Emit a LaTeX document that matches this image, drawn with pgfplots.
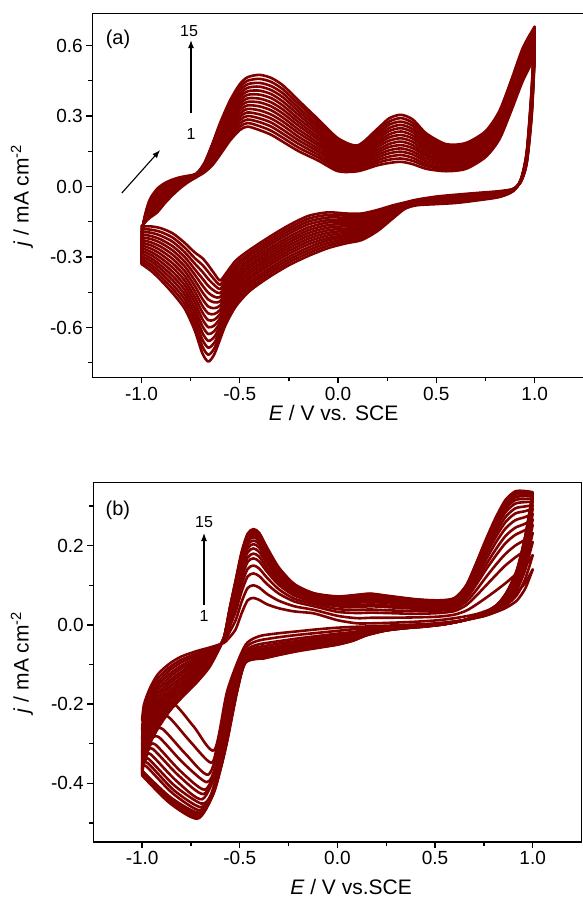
\documentclass[border=0pt]{standalone}
\usepackage{fontspec}
\setmainfont{Liberation Sans}
\usepackage{pgfplots}
\usepackage{pgfplotstable}
\pgfplotsset{compat=1.18}
\usetikzlibrary{arrows.meta}
\definecolor{cvred}{RGB}{128,0,0}

% ---------- (a) anodic sweeps, cycles 1..15 ----------
\pgfplotstableread{
E j1 j2 j3 j4 j5 j6 j7 j8 j9 j10 j11 j12 j13 j14 j15
-1.00 -0.170 -0.181 -0.193 -0.204 -0.216 -0.227 -0.239 -0.250 -0.261 -0.273 -0.284 -0.296 -0.307 -0.319 -0.330
-0.99 -0.160 -0.160 -0.160 -0.160 -0.160 -0.160 -0.160 -0.160 -0.160 -0.160 -0.160 -0.160 -0.160 -0.160 -0.160
-0.96 -0.135 -0.130 -0.124 -0.119 -0.114 -0.108 -0.103 -0.098 -0.092 -0.087 -0.081 -0.076 -0.071 -0.065 -0.060
-0.92 -0.110 -0.103 -0.096 -0.089 -0.081 -0.074 -0.067 -0.060 -0.053 -0.046 -0.039 -0.031 -0.024 -0.017 -0.010
-0.88 -0.070 -0.064 -0.058 -0.052 -0.046 -0.040 -0.034 -0.028 -0.021 -0.015 -0.009 -0.003 0.003 0.009 0.015
-0.84 -0.035 -0.030 -0.026 -0.021 -0.016 -0.012 -0.007 -0.003 0.002 0.007 0.011 0.016 0.021 0.025 0.030
-0.80 -0.005 -0.002 0.001 0.005 0.008 0.011 0.014 0.018 0.021 0.024 0.027 0.030 0.034 0.037 0.040
-0.76 0.020 0.022 0.024 0.026 0.027 0.029 0.031 0.033 0.035 0.037 0.039 0.040 0.042 0.044 0.046
-0.72 0.040 0.041 0.042 0.043 0.044 0.045 0.046 0.048 0.049 0.050 0.051 0.052 0.053 0.054 0.055
-0.68 0.060 0.063 0.066 0.069 0.071 0.074 0.077 0.080 0.083 0.086 0.089 0.091 0.094 0.097 0.100
-0.64 0.090 0.096 0.103 0.109 0.116 0.122 0.129 0.135 0.141 0.148 0.154 0.161 0.167 0.174 0.180
-0.60 0.135 0.145 0.154 0.164 0.174 0.183 0.193 0.203 0.212 0.222 0.231 0.241 0.251 0.260 0.270
-0.55 0.195 0.207 0.219 0.231 0.244 0.256 0.268 0.280 0.292 0.304 0.316 0.329 0.341 0.353 0.365
-0.50 0.240 0.254 0.268 0.282 0.296 0.310 0.324 0.338 0.351 0.365 0.379 0.393 0.407 0.421 0.435
-0.46 0.255 0.270 0.285 0.300 0.315 0.330 0.345 0.360 0.375 0.390 0.405 0.420 0.435 0.450 0.465
-0.40 0.240 0.257 0.274 0.290 0.307 0.324 0.341 0.358 0.374 0.391 0.408 0.425 0.441 0.458 0.475
-0.34 0.220 0.237 0.255 0.272 0.289 0.306 0.324 0.341 0.358 0.376 0.393 0.410 0.427 0.445 0.462
-0.28 0.190 0.207 0.224 0.241 0.259 0.276 0.293 0.310 0.327 0.344 0.361 0.379 0.396 0.413 0.430
-0.20 0.150 0.165 0.181 0.196 0.211 0.227 0.242 0.258 0.273 0.288 0.304 0.319 0.334 0.350 0.365
-0.10 0.110 0.123 0.135 0.148 0.160 0.173 0.185 0.198 0.210 0.223 0.235 0.248 0.260 0.273 0.285
0.00 0.065 0.075 0.085 0.095 0.105 0.115 0.125 0.135 0.145 0.155 0.165 0.175 0.185 0.195 0.205
0.10 0.065 0.073 0.081 0.089 0.096 0.104 0.112 0.120 0.128 0.136 0.144 0.151 0.159 0.167 0.175
0.20 0.090 0.101 0.112 0.123 0.134 0.145 0.156 0.168 0.179 0.190 0.201 0.212 0.223 0.234 0.245
0.26 0.100 0.114 0.127 0.141 0.154 0.168 0.181 0.195 0.209 0.222 0.236 0.249 0.263 0.276 0.290
0.32 0.105 0.119 0.134 0.148 0.162 0.176 0.191 0.205 0.219 0.234 0.248 0.262 0.276 0.291 0.305
0.38 0.095 0.109 0.122 0.136 0.149 0.163 0.176 0.190 0.204 0.217 0.231 0.244 0.258 0.271 0.285
0.45 0.075 0.086 0.096 0.107 0.118 0.129 0.139 0.150 0.161 0.171 0.182 0.193 0.204 0.214 0.225
0.55 0.065 0.073 0.081 0.090 0.098 0.106 0.114 0.123 0.131 0.139 0.147 0.155 0.164 0.172 0.180
0.65 0.075 0.083 0.091 0.099 0.106 0.114 0.122 0.130 0.138 0.146 0.154 0.161 0.169 0.177 0.185
0.75 0.125 0.133 0.141 0.149 0.156 0.164 0.172 0.180 0.188 0.196 0.204 0.211 0.219 0.227 0.235
0.82 0.200 0.209 0.217 0.226 0.234 0.243 0.251 0.260 0.269 0.277 0.286 0.294 0.303 0.311 0.320
0.88 0.320 0.329 0.339 0.348 0.357 0.366 0.376 0.385 0.394 0.404 0.413 0.422 0.431 0.441 0.450
0.94 0.450 0.460 0.470 0.480 0.490 0.500 0.510 0.520 0.530 0.540 0.550 0.560 0.570 0.580 0.590
1.00 0.550 0.559 0.569 0.578 0.587 0.596 0.606 0.615 0.624 0.634 0.643 0.652 0.661 0.671 0.680
}\anodA

% ---------- (a) cathodic sweeps ----------
\pgfplotstableread{
E j1 j2 j3 j4 j5 j6 j7 j8 j9 j10 j11 j12 j13 j14 j15
1.00 0.550 0.559 0.569 0.578 0.587 0.596 0.606 0.615 0.624 0.634 0.643 0.652 0.661 0.671 0.680
0.985 0.300 0.309 0.317 0.326 0.334 0.343 0.351 0.360 0.369 0.377 0.386 0.394 0.403 0.411 0.420
0.96 0.100 0.104 0.107 0.111 0.114 0.118 0.121 0.125 0.129 0.132 0.136 0.139 0.143 0.146 0.150
0.93 0.020 0.021 0.021 0.022 0.023 0.024 0.024 0.025 0.026 0.026 0.027 0.028 0.029 0.029 0.030
0.89 -0.010 -0.011 -0.011 -0.012 -0.013 -0.014 -0.014 -0.015 -0.016 -0.016 -0.017 -0.018 -0.019 -0.019 -0.020
0.82 -0.020 -0.022 -0.024 -0.025 -0.027 -0.029 -0.031 -0.032 -0.034 -0.036 -0.038 -0.040 -0.041 -0.043 -0.045
0.70 -0.028 -0.030 -0.033 -0.035 -0.037 -0.039 -0.042 -0.044 -0.046 -0.049 -0.051 -0.053 -0.055 -0.058 -0.060
0.60 -0.035 -0.038 -0.040 -0.043 -0.045 -0.048 -0.050 -0.053 -0.055 -0.058 -0.060 -0.063 -0.065 -0.068 -0.070
0.50 -0.043 -0.045 -0.048 -0.050 -0.052 -0.054 -0.057 -0.059 -0.061 -0.064 -0.066 -0.068 -0.070 -0.073 -0.075
0.40 -0.056 -0.058 -0.059 -0.061 -0.063 -0.065 -0.066 -0.068 -0.070 -0.071 -0.073 -0.075 -0.077 -0.078 -0.080
0.34 -0.068 -0.070 -0.072 -0.074 -0.076 -0.078 -0.080 -0.082 -0.083 -0.085 -0.087 -0.089 -0.091 -0.093 -0.095
0.28 -0.080 -0.084 -0.088 -0.092 -0.096 -0.100 -0.104 -0.108 -0.111 -0.115 -0.119 -0.123 -0.127 -0.131 -0.135
0.20 -0.100 -0.106 -0.113 -0.119 -0.126 -0.132 -0.139 -0.145 -0.151 -0.158 -0.164 -0.171 -0.177 -0.184 -0.190
0.12 -0.115 -0.123 -0.131 -0.139 -0.147 -0.155 -0.163 -0.172 -0.180 -0.188 -0.196 -0.204 -0.212 -0.220 -0.228
0.04 -0.115 -0.124 -0.133 -0.142 -0.151 -0.160 -0.169 -0.179 -0.188 -0.197 -0.206 -0.215 -0.224 -0.233 -0.242
-0.05 -0.110 -0.121 -0.132 -0.143 -0.153 -0.164 -0.175 -0.186 -0.197 -0.208 -0.219 -0.229 -0.240 -0.251 -0.262
-0.15 -0.125 -0.137 -0.149 -0.161 -0.174 -0.186 -0.198 -0.210 -0.222 -0.234 -0.246 -0.259 -0.271 -0.283 -0.295
-0.25 -0.165 -0.177 -0.189 -0.201 -0.214 -0.226 -0.238 -0.250 -0.262 -0.274 -0.286 -0.299 -0.311 -0.323 -0.335
-0.35 -0.215 -0.227 -0.239 -0.251 -0.264 -0.276 -0.288 -0.300 -0.312 -0.324 -0.336 -0.349 -0.361 -0.373 -0.385
-0.45 -0.270 -0.283 -0.295 -0.308 -0.320 -0.333 -0.345 -0.358 -0.370 -0.383 -0.395 -0.408 -0.420 -0.433 -0.445
-0.52 -0.315 -0.329 -0.343 -0.357 -0.371 -0.385 -0.399 -0.413 -0.426 -0.440 -0.454 -0.468 -0.482 -0.496 -0.510
-0.57 -0.370 -0.385 -0.401 -0.416 -0.431 -0.447 -0.462 -0.478 -0.493 -0.508 -0.524 -0.539 -0.554 -0.570 -0.585
-0.60 -0.400 -0.418 -0.436 -0.454 -0.471 -0.489 -0.507 -0.525 -0.543 -0.561 -0.579 -0.596 -0.614 -0.632 -0.650
-0.63 -0.370 -0.395 -0.419 -0.444 -0.469 -0.493 -0.518 -0.543 -0.567 -0.592 -0.616 -0.641 -0.666 -0.690 -0.715
-0.66 -0.335 -0.364 -0.394 -0.423 -0.452 -0.481 -0.511 -0.540 -0.569 -0.599 -0.628 -0.657 -0.686 -0.716 -0.745
-0.69 -0.305 -0.334 -0.363 -0.392 -0.421 -0.450 -0.479 -0.508 -0.536 -0.565 -0.594 -0.623 -0.652 -0.681 -0.710
-0.73 -0.280 -0.304 -0.327 -0.351 -0.374 -0.398 -0.421 -0.445 -0.469 -0.492 -0.516 -0.539 -0.563 -0.586 -0.610
-0.78 -0.240 -0.260 -0.280 -0.300 -0.320 -0.340 -0.360 -0.380 -0.400 -0.420 -0.440 -0.460 -0.480 -0.500 -0.520
-0.84 -0.200 -0.218 -0.236 -0.255 -0.273 -0.291 -0.309 -0.328 -0.346 -0.364 -0.382 -0.400 -0.419 -0.437 -0.455
-0.90 -0.178 -0.194 -0.210 -0.226 -0.241 -0.257 -0.273 -0.289 -0.305 -0.321 -0.337 -0.352 -0.368 -0.384 -0.400
-0.95 -0.170 -0.184 -0.197 -0.211 -0.224 -0.238 -0.251 -0.265 -0.279 -0.292 -0.306 -0.319 -0.333 -0.346 -0.360
-1.00 -0.170 -0.181 -0.193 -0.204 -0.216 -0.227 -0.239 -0.250 -0.261 -0.273 -0.284 -0.296 -0.307 -0.319 -0.330
}\catA

% ---------- (b) anodic sweeps ----------
\pgfplotstableread{
E j1 j2 j3 j4 j5 j6 j7 j8 j9 j10 j11 j12 j13 j14 j15
-1.00 -0.240 -0.266 -0.290 -0.306 -0.321 -0.330 -0.341 -0.350 -0.357 -0.363 -0.368 -0.372 -0.375 -0.378 -0.380
-0.99 -0.200 -0.210 -0.221 -0.231 -0.241 -0.252 -0.262 -0.273 -0.283 -0.293 -0.304 -0.314 -0.324 -0.335 -0.345
-0.96 -0.160 -0.170 -0.180 -0.190 -0.200 -0.210 -0.220 -0.230 -0.240 -0.250 -0.260 -0.270 -0.280 -0.290 -0.300
-0.92 -0.125 -0.135 -0.145 -0.154 -0.164 -0.174 -0.184 -0.194 -0.203 -0.213 -0.223 -0.233 -0.242 -0.252 -0.262
-0.86 -0.098 -0.107 -0.115 -0.124 -0.132 -0.141 -0.149 -0.158 -0.167 -0.175 -0.184 -0.192 -0.201 -0.209 -0.218
-0.80 -0.080 -0.088 -0.095 -0.103 -0.110 -0.118 -0.125 -0.133 -0.140 -0.148 -0.155 -0.163 -0.170 -0.178 -0.185
-0.72 -0.066 -0.072 -0.077 -0.083 -0.089 -0.094 -0.100 -0.106 -0.111 -0.117 -0.122 -0.128 -0.134 -0.139 -0.145
-0.66 -0.058 -0.062 -0.065 -0.069 -0.073 -0.077 -0.080 -0.084 -0.088 -0.091 -0.095 -0.099 -0.103 -0.106 -0.110
-0.62 -0.052 -0.054 -0.055 -0.057 -0.059 -0.060 -0.062 -0.063 -0.065 -0.067 -0.068 -0.070 -0.072 -0.073 -0.075
-0.58 -0.045 -0.042 -0.040 -0.038 -0.036 -0.035 -0.034 -0.033 -0.033 -0.032 -0.031 -0.031 -0.031 -0.030 -0.030
-0.55 -0.030 -0.016 -0.003 0.005 0.013 0.018 0.024 0.029 0.033 0.036 0.039 0.041 0.043 0.044 0.045
-0.52 -0.010 0.013 0.035 0.049 0.062 0.071 0.080 0.088 0.094 0.100 0.104 0.108 0.111 0.113 0.115
-0.49 0.030 0.059 0.085 0.103 0.119 0.130 0.141 0.151 0.159 0.166 0.172 0.176 0.180 0.182 0.185
-0.46 0.062 0.093 0.122 0.141 0.159 0.170 0.183 0.193 0.202 0.210 0.216 0.220 0.224 0.227 0.230
-0.43 0.068 0.100 0.130 0.150 0.168 0.180 0.193 0.204 0.213 0.221 0.227 0.232 0.236 0.239 0.242
-0.40 0.063 0.094 0.123 0.142 0.160 0.172 0.184 0.195 0.204 0.212 0.218 0.222 0.226 0.229 0.232
-0.36 0.052 0.078 0.103 0.119 0.134 0.144 0.155 0.164 0.171 0.178 0.183 0.187 0.190 0.193 0.195
-0.30 0.042 0.061 0.079 0.090 0.101 0.108 0.116 0.123 0.128 0.133 0.136 0.139 0.142 0.143 0.145
-0.22 0.034 0.047 0.059 0.066 0.074 0.078 0.083 0.088 0.092 0.095 0.097 0.099 0.101 0.102 0.103
-0.12 0.029 0.038 0.047 0.053 0.058 0.062 0.066 0.069 0.072 0.074 0.076 0.077 0.078 0.079 0.080
0.00 0.012 0.023 0.033 0.040 0.047 0.051 0.055 0.059 0.062 0.065 0.067 0.069 0.070 0.071 0.072
0.10 0.004 0.017 0.030 0.038 0.045 0.050 0.056 0.060 0.064 0.067 0.070 0.072 0.074 0.075 0.076
0.17 0.004 0.018 0.031 0.039 0.047 0.052 0.058 0.063 0.067 0.070 0.073 0.075 0.077 0.078 0.079
0.25 0.005 0.018 0.030 0.037 0.045 0.049 0.055 0.059 0.063 0.066 0.068 0.070 0.072 0.073 0.074
0.40 0.008 0.019 0.028 0.035 0.041 0.045 0.049 0.053 0.056 0.058 0.060 0.062 0.063 0.064 0.065
0.52 0.012 0.021 0.030 0.036 0.041 0.044 0.048 0.051 0.054 0.056 0.058 0.059 0.060 0.061 0.062
0.60 0.017 0.026 0.035 0.041 0.046 0.050 0.054 0.057 0.060 0.062 0.064 0.065 0.066 0.067 0.068
0.66 0.022 0.036 0.050 0.059 0.067 0.072 0.078 0.083 0.087 0.091 0.093 0.096 0.097 0.099 0.100
0.71 0.027 0.051 0.073 0.087 0.101 0.109 0.119 0.127 0.134 0.140 0.144 0.148 0.151 0.153 0.155
0.76 0.035 0.068 0.099 0.120 0.139 0.151 0.164 0.176 0.185 0.193 0.200 0.205 0.209 0.212 0.215
0.81 0.045 0.086 0.125 0.151 0.174 0.190 0.207 0.221 0.232 0.243 0.251 0.257 0.262 0.266 0.270
0.86 0.058 0.105 0.150 0.179 0.206 0.224 0.243 0.259 0.272 0.284 0.293 0.300 0.306 0.311 0.315
0.91 0.078 0.126 0.170 0.200 0.227 0.245 0.264 0.281 0.294 0.306 0.315 0.322 0.328 0.333 0.337
0.96 0.105 0.148 0.188 0.215 0.239 0.255 0.272 0.287 0.299 0.310 0.318 0.325 0.330 0.334 0.338
1.00 0.140 0.176 0.209 0.232 0.252 0.266 0.280 0.293 0.302 0.311 0.318 0.324 0.328 0.332 0.335
}\anodB

% ---------- (b) cathodic sweeps, 1.0 V down to -0.38 V ----------
\pgfplotstableread{
E j1 j2 j3 j4 j5 j6 j7 j8 j9 j10 j11 j12 j13 j14 j15
1.00 0.140 0.176 0.209 0.232 0.252 0.266 0.280 0.293 0.302 0.311 0.318 0.324 0.328 0.332 0.335
0.985 0.120 0.151 0.181 0.200 0.218 0.230 0.242 0.253 0.262 0.269 0.275 0.280 0.284 0.287 0.290
0.96 0.090 0.114 0.136 0.151 0.165 0.174 0.183 0.192 0.198 0.204 0.209 0.213 0.216 0.218 0.220
0.92 0.062 0.076 0.090 0.099 0.107 0.112 0.118 0.123 0.127 0.131 0.133 0.136 0.137 0.139 0.140
0.87 0.045 0.052 0.059 0.064 0.068 0.071 0.074 0.076 0.078 0.080 0.082 0.083 0.084 0.084 0.085
0.82 0.034 0.037 0.040 0.042 0.044 0.046 0.047 0.048 0.049 0.050 0.050 0.051 0.051 0.052 0.052
0.75 0.022 0.023 0.025 0.026 0.027 0.027 0.028 0.028 0.029 0.029 0.029 0.030 0.030 0.030 0.030
0.65 0.012 0.012 0.012 0.012 0.012 0.012 0.012 0.012 0.012 0.012 0.012 0.012 0.012 0.012 0.012
0.55 0.006 0.005 0.005 0.004 0.004 0.003 0.003 0.003 0.003 0.002 0.002 0.002 0.002 0.002 0.002
0.45 0.002 0.001 0.000 -0.001 -0.001 -0.002 -0.002 -0.003 -0.003 -0.003 -0.003 -0.004 -0.004 -0.004 -0.004
0.35 0.000 -0.001 -0.003 -0.004 -0.005 -0.005 -0.006 -0.006 -0.007 -0.007 -0.007 -0.008 -0.008 -0.008 -0.008
0.25 -0.002 -0.004 -0.006 -0.008 -0.009 -0.010 -0.011 -0.011 -0.012 -0.013 -0.013 -0.013 -0.014 -0.014 -0.014
0.15 -0.004 -0.008 -0.012 -0.014 -0.017 -0.018 -0.020 -0.021 -0.022 -0.023 -0.024 -0.025 -0.025 -0.026 -0.026
0.08 -0.005 -0.011 -0.018 -0.022 -0.025 -0.028 -0.030 -0.032 -0.034 -0.036 -0.037 -0.038 -0.039 -0.039 -0.040
0.00 -0.007 -0.015 -0.022 -0.027 -0.032 -0.035 -0.038 -0.041 -0.043 -0.045 -0.046 -0.048 -0.049 -0.049 -0.050
-0.10 -0.011 -0.020 -0.028 -0.033 -0.038 -0.041 -0.045 -0.048 -0.050 -0.052 -0.054 -0.055 -0.056 -0.057 -0.058
-0.20 -0.016 -0.025 -0.034 -0.040 -0.045 -0.048 -0.052 -0.055 -0.058 -0.060 -0.062 -0.063 -0.064 -0.065 -0.066
-0.30 -0.021 -0.031 -0.041 -0.047 -0.053 -0.056 -0.061 -0.064 -0.067 -0.069 -0.071 -0.073 -0.074 -0.075 -0.076
-0.38 -0.026 -0.037 -0.047 -0.054 -0.060 -0.064 -0.068 -0.072 -0.075 -0.078 -0.080 -0.082 -0.083 -0.084 -0.085
}\catB

\pgfplotsset{
  cv/.style={cvred, line width=2.6pt, smooth, tension=0.45,
             line join=round, line cap=round},
  cvaxis/.style={
    scale only axis,
    xmin=-1.25, xmax=1.25,
    axis line style={line width=1.4pt},
    tick align=outside,
    xtick pos=left, ytick pos=left,
    major tick length=6pt, minor tick length=4pt,
    tick style={line width=1.3pt, black},
    minor tick style={line width=1.3pt, black},
    xtick={-1,-0.5,0,0.5,1},
    xticklabels={-1.0,-0.5,0.0,0.5,1.0},
    minor xtick={-0.75,-0.25,0.25,0.75},
    ticklabel style={font=\fontsize{19}{22}\selectfont},
    label style={font=\fontsize{21}{25}\selectfont},
    ylabel={\textit{j} / mA cm\textsuperscript{-2}},
  },
}

\begin{document}
\begin{tikzpicture}
\useasboundingbox (0pt,0pt) rectangle (582pt,904pt);

% ----- panel (a) -----
\begin{axis}[cvaxis,
  at={(92.3pt,526.7pt)}, anchor=south west,
  width=491.5pt, height=364pt,
  ymin=-0.812, ymax=0.737,
  ytick={-0.6,-0.3,0,0.3,0.6},
  yticklabels={-0.6,-0.3,0.0,0.3,0.6},
  minor ytick={-0.75,-0.45,-0.15,0.15,0.45},
  xlabel={\textit{E} / V vs. SCE},
  xlabel style={at={(axis description cs:0.491,-0.097)}, anchor=center},
  ylabel style={at={(axis description cs:-0.143,0.5)}, anchor=center},
]
\pgfplotsinvokeforeach{1,...,15}{
  \addplot[cv] table[x=E, y=j#1] {\anodA};
  \addplot[cv] table[x=E, y=j#1] {\catA};
}
\node[font=\fontsize{20}{24}\selectfont] at (axis cs:-1.119,0.628) {(a)};
\node[font=\fontsize{16}{19}\selectfont] at (axis cs:-0.758,0.662) {15};
\node[font=\fontsize{16}{19}\selectfont] at (axis cs:-0.748,0.223) {1};
\draw[-{Latex[length=8pt,width=6pt]}, line width=1.1pt]
  (axis cs:-0.748,0.313) -- (axis cs:-0.748,0.623);
\draw[-{Latex[length=8pt,width=6pt]}, line width=1.1pt]
  (axis cs:-1.100,-0.028) -- (axis cs:-0.905,0.155);
\end{axis}

% ----- panel (b) -----
\begin{axis}[cvaxis,
  at={(93.3pt,62pt)}, anchor=south west,
  width=488.2pt, height=359.3pt,
  ymin=-0.548, ymax=0.359,
  ytick={-0.4,-0.2,0,0.2},
  yticklabels={-0.4,-0.2,0.0,0.2},
  minor ytick={-0.5,-0.3,-0.1,0.1,0.3},
  xlabel={\textit{E} / V vs.SCE},
  xlabel style={at={(axis description cs:0.528,-0.125)}, anchor=center},
  ylabel style={at={(axis description cs:-0.146,0.5)}, anchor=center},
]
\pgfplotsinvokeforeach{1,...,15}{
  \addplot[cv] table[x=E, y=j#1] {\anodB};
  \addplot[cv] table[x=E, y=j#1] {\catB};
}
% cathodic sweeps below -0.38 V, each cycle with its own reduction peak
\addplot[cv] coordinates {(-0.38,-0.026) (-0.47,-0.050) (-0.563,-0.165) (-0.630,-0.316) (-0.735,-0.257) (-0.840,-0.198) (-0.930,-0.206) (-1.000,-0.240)};
\addplot[cv] coordinates {(-0.38,-0.037) (-0.47,-0.058) (-0.554,-0.165) (-0.610,-0.290) (-0.646,-0.348) (-0.758,-0.292) (-0.869,-0.231) (-0.935,-0.240) (-1.000,-0.266)};
\addplot[cv] coordinates {(-0.38,-0.047) (-0.47,-0.066) (-0.545,-0.165) (-0.600,-0.290) (-0.661,-0.378) (-0.779,-0.325) (-0.897,-0.262) (-0.948,-0.269) (-1.000,-0.290)};
\addplot[cv] coordinates {(-0.38,-0.054) (-0.47,-0.071) (-0.539,-0.165) (-0.593,-0.290) (-0.626,-0.360) (-0.670,-0.397) (-0.793,-0.347) (-0.915,-0.283) (-0.958,-0.289) (-1.000,-0.306)};
\addplot[cv] coordinates {(-0.38,-0.060) (-0.47,-0.076) (-0.534,-0.165) (-0.587,-0.290) (-0.620,-0.360) (-0.680,-0.416) (-0.806,-0.368) (-0.932,-0.302) (-0.966,-0.307) (-1.000,-0.321)};
\addplot[cv] coordinates {(-0.38,-0.064) (-0.47,-0.079) (-0.530,-0.165) (-0.583,-0.290) (-0.616,-0.360) (-0.685,-0.427) (-0.814,-0.380) (-0.943,-0.314) (-0.972,-0.318) (-1.000,-0.330)};
\addplot[cv] coordinates {(-0.38,-0.068) (-0.47,-0.082) (-0.526,-0.165) (-0.579,-0.290) (-0.612,-0.360) (-0.692,-0.440) (-0.824,-0.394) (-0.955,-0.327) (-0.978,-0.331) (-1.000,-0.341)};
\addplot[cv] coordinates {(-0.38,-0.072) (-0.47,-0.085) (-0.523,-0.165) (-0.575,-0.290) (-0.608,-0.360) (-0.649,-0.430) (-0.697,-0.451) (-0.831,-0.407) (-0.965,-0.339) (-0.983,-0.342) (-1.000,-0.350)};
\addplot[cv] coordinates {(-0.38,-0.075) (-0.47,-0.088) (-0.521,-0.165) (-0.573,-0.290) (-0.605,-0.360) (-0.646,-0.430) (-0.702,-0.460) (-0.838,-0.417) (-0.973,-0.348) (-1.000,-0.357)};
\addplot[cv] coordinates {(-0.38,-0.078) (-0.47,-0.090) (-0.518,-0.165) (-0.570,-0.290) (-0.603,-0.360) (-0.644,-0.430) (-0.706,-0.468) (-0.844,-0.425) (-0.981,-0.356) (-1.000,-0.363)};
\addplot[cv] coordinates {(-0.38,-0.080) (-0.47,-0.091) (-0.516,-0.165) (-0.568,-0.290) (-0.601,-0.360) (-0.642,-0.430) (-0.709,-0.474) (-0.855,-0.435) (-1.000,-0.368)};
\addplot[cv] coordinates {(-0.38,-0.082) (-0.47,-0.092) (-0.515,-0.165) (-0.566,-0.290) (-0.599,-0.360) (-0.641,-0.430) (-0.711,-0.479) (-0.856,-0.440) (-1.000,-0.372)};
\addplot[cv] coordinates {(-0.38,-0.083) (-0.47,-0.094) (-0.514,-0.165) (-0.565,-0.290) (-0.598,-0.360) (-0.640,-0.430) (-0.713,-0.483) (-0.857,-0.444) (-1.000,-0.375)};
\addplot[cv] coordinates {(-0.38,-0.084) (-0.47,-0.094) (-0.513,-0.165) (-0.564,-0.290) (-0.597,-0.360) (-0.639,-0.430) (-0.715,-0.486) (-0.858,-0.447) (-1.000,-0.378)};
\addplot[cv] coordinates {(-0.38,-0.085) (-0.47,-0.095) (-0.512,-0.165) (-0.563,-0.290) (-0.596,-0.360) (-0.638,-0.430) (-0.716,-0.489) (-0.858,-0.450) (-1.000,-0.380)};
\node[font=\fontsize{20}{24}\selectfont] at (axis cs:-1.124,0.290) {(b)};
\node[font=\fontsize{16}{19}\selectfont] at (axis cs:-0.683,0.260) {15};
\node[font=\fontsize{16}{19}\selectfont] at (axis cs:-0.683,0.022) {1};
\draw[-{Latex[length=8pt,width=6pt]}, line width=1.1pt]
  (axis cs:-0.683,0.050) -- (axis cs:-0.683,0.232);
\end{axis}
\end{tikzpicture}
\end{document}
